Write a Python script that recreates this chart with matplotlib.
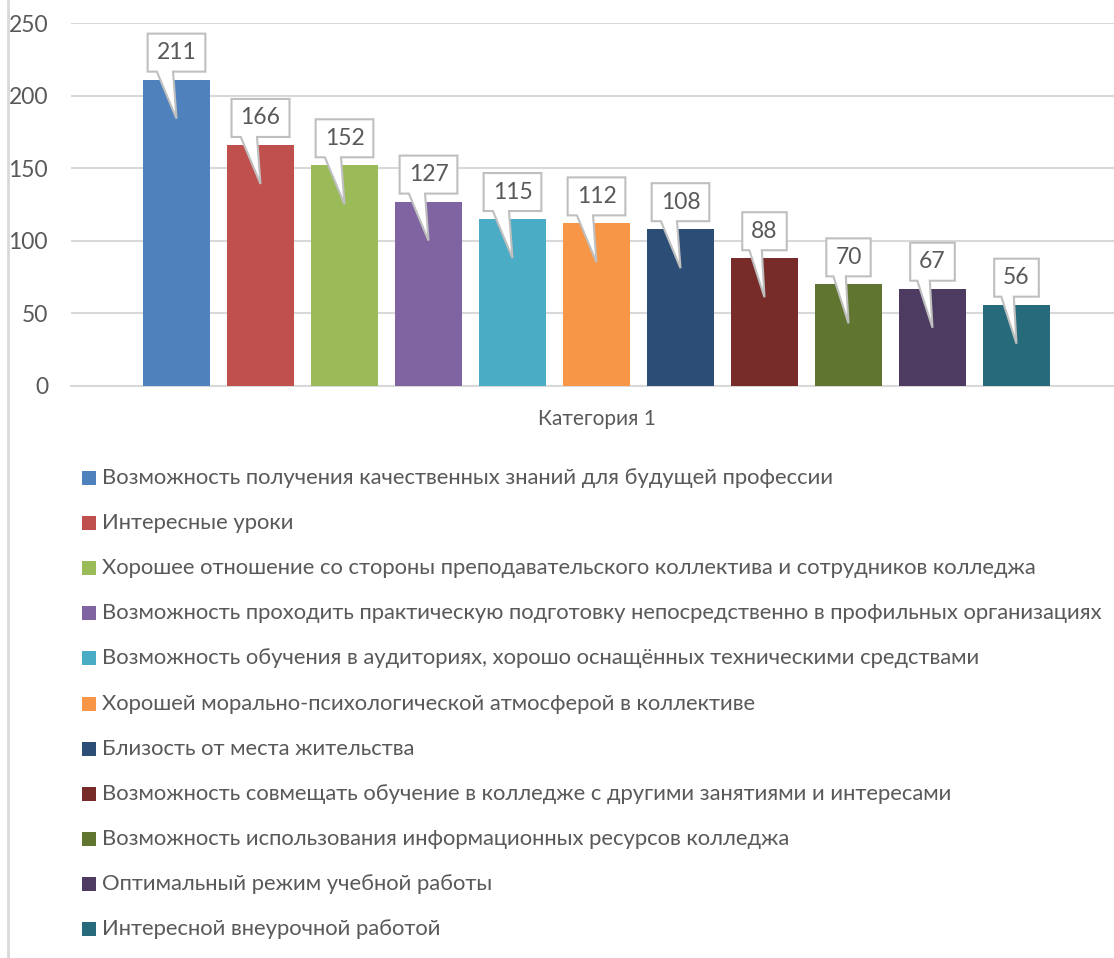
import matplotlib
matplotlib.use("Agg")
import matplotlib.pyplot as plt
from matplotlib.patches import Rectangle, PathPatch
from matplotlib.path import Path
from matplotlib.lines import Line2D
import matplotlib.transforms as mtransforms

plt.rcParams['font.family'] = ['Lato', 'DejaVu Sans']

categories = [
    "Возможность получения качественных знаний для будущей профессии",
    "Интересные уроки",
    "Хорошее отношение со стороны преподавательского коллектива и сотрудников колледжа",
    "Возможность проходить практическую подготовку непосредственно в профильных организациях",
    "Возможность обучения в аудиториях, хорошо оснащённых техническими средствами",
    "Хорошей морально-психологической атмосферой в коллективе",
    "Близость от места жительства",
    "Возможность совмещать обучение в колледже с другими занятиями и интересами",
    "Возможность использования информационных ресурсов колледжа",
    "Оптимальный режим учебной работы",
    "Интересной внеурочной работой",
]
values = [211, 166, 152, 127, 115, 112, 108, 88, 70, 67, 56]
colors = ["#4F81BD", "#C0504D", "#9BBB59", "#8064A2", "#4BACC6", "#F79646",
          "#2C4D75", "#772C2A", "#5F7530", "#4D3B62", "#276A7C"]
group_label = "Категория 1"
yticks = [0, 50, 100, 150, 200, 250]

W, H = 1114, 958
DPI = 100
TXT = "#595959"
GRID = "#D9D9D9"

fig = plt.figure(figsize=(W / DPI, H / DPI), dpi=DPI)
ax = fig.add_axes([71 / W, (H - 386) / H, 1051 / W, 363 / H])

n = len(values)
xs = list(range(n))
ax.bar(xs, values, width=0.8, color=colors, zorder=2)
ax.set_xlim(-1.256, n - 1 + 1.256)
ax.set_ylim(0, 250)
ax.set_yticks(yticks)
ax.set_yticklabels([str(t) for t in yticks], fontsize=16.5, color=TXT)
ax.tick_params(axis='y', length=0, pad=16.5)
ax.set_xticks([])
ax.grid(axis='y', color=GRID, linewidth=1.5, zorder=0)
for s in ['top', 'right', 'left']:
    ax.spines[s].set_visible(False)
ax.spines['bottom'].set_color(GRID)
ax.spines['bottom'].set_linewidth(1.5)
ax.spines['bottom'].set_zorder(1)

# category label
ax.text((n - 1) / 2, -0.09, group_label,
        transform=mtransforms.blended_transform_factory(ax.transData, ax.transAxes),
        ha='center', va='center', fontsize=15, color=TXT)

# callouts (pixel offsets relative to bar top)
fig.canvas.draw()
renderer = fig.canvas.get_renderer()
px = DPI / 100.0
for x, v in zip(xs, values):
    t = ax.annotate(str(v), xy=(x, v), xytext=(0, 8 + 19), textcoords='offset pixels',
                    ha='center', va='center', fontsize=16.5, color=TXT, zorder=6)
    bb = t.get_window_extent(renderer)
    tw = bb.width / px
    bw = tw + 18
    L, R = -bw / 2, bw / 2
    B, T = 8, 8 + 38
    tip = -39
    verts = [(L, B), (L + 0.16 * bw, B), (0, tip), (L + 0.44 * bw, B), (R, B), (R, T), (L, T), (L, B)]
    codes = [Path.MOVETO] + [Path.LINETO] * 6 + [Path.CLOSEPOLY]
    tr = mtransforms.Affine2D().scale(px) + mtransforms.ScaledTranslation(x, v, ax.transData)
    p = PathPatch(Path(verts, codes), facecolor='white', edgecolor='#BFBFBF', linewidth=1.5,
                  transform=tr, zorder=5, joinstyle='miter')
    p.set_clip_on(False)
    ax.add_artist(p)

# legend (manual)
for i, (lab, c) in enumerate(zip(categories, colors)):
    yc = 478 + 45.1 * i
    fig.patches.append(Rectangle((82 / W, (H - yc - 7) / H), 14 / W, 14 / H,
                                 transform=fig.transFigure, facecolor=c, edgecolor='none'))
    fig.text(102 / W, (H - yc) / H, lab, ha='left', va='center', fontsize=15.8, color=TXT)

# chart frame left border
fig.add_artist(Line2D([8 / W, 8 / W], [0, 1], transform=fig.transFigure, color=GRID, linewidth=2))

fig.savefig("out.png", dpi=DPI)
